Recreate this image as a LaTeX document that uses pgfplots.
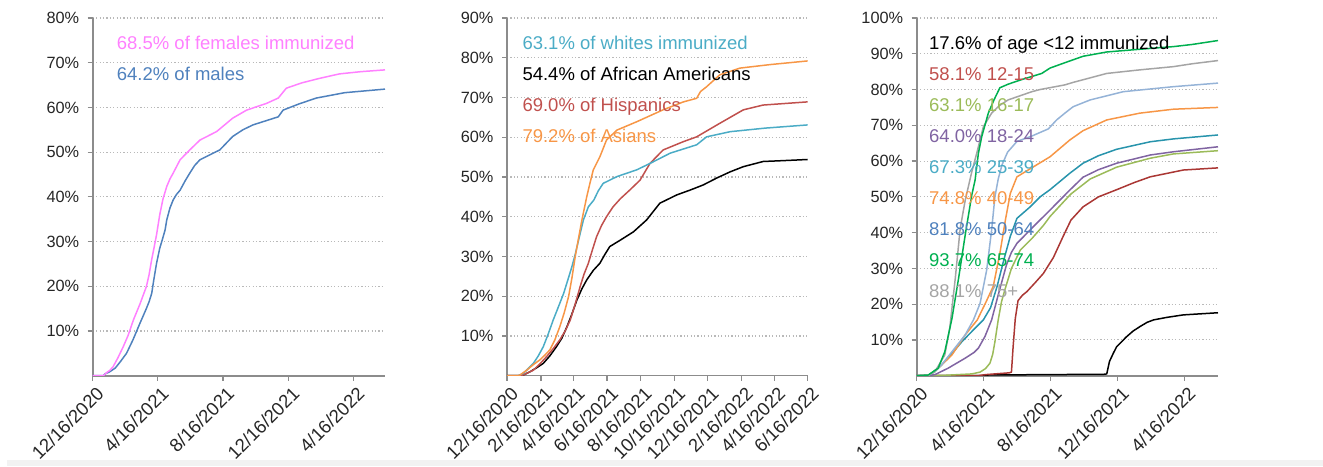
\documentclass[border=0pt]{standalone}
\usepackage{pgfplots}
\pgfplotsset{compat=1.18}
\usepackage{fontspec}
\setmainfont{Liberation Sans}
\definecolor{axisgray}{RGB}{140,140,140}
\definecolor{gridgray}{RGB}{185,185,185}
\definecolor{ticktext}{RGB}{38,38,38}
\definecolor{pinkc}{RGB}{255,128,255}
\definecolor{bluec}{RGB}{79,129,189}
\definecolor{whitec}{RGB}{75,172,198}
\definecolor{hispc}{RGB}{192,80,77}
\definecolor{asianc}{RGB}{247,150,70}
\definecolor{redline}{RGB}{170,55,52}
\definecolor{lgreen}{RGB}{155,187,89}
\definecolor{purplec}{RGB}{128,100,162}
\definecolor{tealline}{RGB}{40,148,172}
\definecolor{lblue}{RGB}{149,179,215}
\definecolor{greenc}{RGB}{0,176,80}
\definecolor{grayc}{RGB}{165,165,165}
\newcommand{\legfont}{\fontsize{18.5}{18.5}\selectfont}
\pgfplotsset{
  panel/.style={
    scale only axis, height=357.7pt, ymin=0, xmin=0, xmax=547,
    axis x line=bottom, axis y line=left,
    axis line style={-, draw=axisgray, line width=1.6pt},
    tick style={draw=axisgray, line width=1.2pt},
    tick align=outside, major tick length=5pt,
    ymajorgrids,
    grid style={draw=gridgray, line width=1.1pt, dash pattern=on 1.2pt off 2.2pt},
    yticklabel style={font=\fontsize{16.3}{16.3}\selectfont, text=ticktext, xshift=-5pt},
    xticklabel style={font=\fontsize{18.5}{18.5}\selectfont, rotate=45, anchor=north east, text=ticktext, xshift=2pt, yshift=-2pt},
    every axis plot/.append style={line width=1.5pt, no marks, line join=round},
  }
}
\begin{document}
\begin{tikzpicture}
\useasboundingbox (0,0) rectangle (1323pt,466pt);
\fill[black!5] (7pt,0) rectangle (1323pt,5.5pt);
% Panel 1
\begin{axis}[panel, at={(92.7pt,90.3pt)}, anchor=south west, width=292.3pt, xmax=545,
  ymax=80, ytick={10,20,...,80}, yticklabels={10\%,20\%,30\%,40\%,50\%,60\%,70\%,80\%},
  xtick={0,121,243,365,486}, xticklabels={12/16/2020,4/16/2021,8/16/2021,12/16/2021,4/16/2022}]
\addplot[color=bluec] coordinates {(0,0) (20,0) (23,0.4) (32,0.9) (42,1.7) (52,3.2) (63,5.0) (75,8) (88,11.7) (100,15) (105,16.5) (110,18.4) (114,21.5) (119,25.1) (125,28.5) (130,30.5) (135,32.6) (138,34.8) (144,37.5) (150,39.3) (156,40.5) (163,41.5) (172,43.5) (181,45.3) (190,47) (200,48.3) (220,49.5) (237,50.5) (261,53.5) (280,55) (299,56.1) (346,57.9) (355,59.4) (385,60.8) (417,62.1) (470,63.3) (545,64.1)};
\addplot[color=pinkc] coordinates {(0,0) (20,0) (26,0.7) (32,1.2) (38,2.0) (47,4) (57,6.5) (66,9) (76,12.5) (88,16) (100,19.9) (105,22.5) (110,26) (115,29) (119,31.5) (125,36) (131,39.5) (138,42.3) (144,44) (150,45.3) (163,48.3) (181,50.5) (200,52.7) (231,54.6) (261,57.6) (287,59.4) (324,60.9) (346,62.1) (361,64.3) (390,65.5) (423,66.5) (460,67.5) (500,68) (545,68.4)};
\end{axis}
% Panel 2
\begin{axis}[panel, at={(507pt,90.3pt)}, anchor=south west, width=300.7pt,
  ymax=90, ytick={10,20,...,90}, yticklabels={10\%,20\%,30\%,40\%,50\%,60\%,70\%,80\%,90\%},
  xtick={0,62,121,182,243,304,365,427,486,547},
  xticklabels={12/16/2020,2/16/2021,4/16/2021,6/16/2021,8/16/2021,10/16/2021,12/16/2021,2/16/2022,4/16/2022,6/16/2022}]
\addplot[color=black] coordinates {(0,0) (20,0) (30,0.2) (42,1.0) (54,2) (66,3.1) (78,5) (90,7.3) (100,9.5) (109,12.3) (118,15.5) (127,19) (136,21.8) (145,24.1) (157,26.5) (169,28.3) (178,30.5) (187,32.5) (206,34.1) (230,36.2) (254,39.2) (278,43.4) (309,45.5) (333,46.7) (357,48) (381,49.7) (406,51.3) (430,52.6) (466,53.9) (500,54.1) (547,54.4)};
\addplot[color=hispc] coordinates {(0,0) (20,0) (30,0.2) (48,1.4) (60,3) (72,4.8) (84,6.8) (96,9) (106,11.3) (115,14) (124,18) (133,22.4) (140,25.5) (148,28.3) (155,31.5) (163,35) (172,37.8) (181,40) (193,42.5) (206,44.5) (224,46.8) (242,49.2) (260,53.4) (284,56.8) (321,58.9) (345,60.1) (387,63.5) (430,66.9) (466,68.1) (547,68.9)};
\addplot[color=whitec] coordinates {(0,0) (20,0) (30,0.6) (48,3.1) (57,5) (66,7.3) (75,10.5) (84,14) (94,17.5) (103,20.7) (110,23.8) (118,27.4) (124,30.5) (130,34) (139,39.2) (148,42.5) (158,44.2) (166,46.5) (175,48.4) (200,50.1) (236,51.8) (260,53.4) (297,56) (345,58.1) (363,60.1) (406,61.4) (470,62.3) (547,63.1)};
\addplot[color=asianc] coordinates {(0,0) (20,0) (24,0.2) (36,1.4) (48,2.8) (60,4.0) (69,5.2) (78,6.5) (87,9) (96,12.3) (104,15.8) (112,19.9) (118,24.5) (124,29.9) (130,34.5) (136,39) (145,45) (151,48.5) (157,51.8) (169,55.1) (181,59.3) (200,61.8) (236,63.9) (284,66.9) (321,68.9) (345,69.8) (352,71.5) (363,72.7) (387,75.7) (424,77.4) (480,78.3) (547,79.2)};
\end{axis}
% Panel 3
\begin{axis}[panel, at={(916.7pt,90.3pt)}, anchor=south west, width=301.3pt,
  ymax=100, ytick={10,20,...,100}, yticklabels={10\%,20\%,30\%,40\%,50\%,60\%,70\%,80\%,90\%,100\%},
  xtick={0,121,243,365,486}, xticklabels={12/16/2020,4/16/2021,8/16/2021,12/16/2021,4/16/2022}]
\addplot[color=black] coordinates {(0,0) (120,0) (130,0.2) (340,0.4) (345,0.5) (350,4) (357,6.3) (363,8.1) (372,9.5) (381,10.9) (393,12.5) (405,13.7) (418,14.9) (430,15.6) (454,16.3) (484,17) (547,17.6)};
\addplot[color=redline] coordinates {(0,0) (110,0) (125,0.3) (150,0.6) (168,0.8) (172,1.0) (175,8) (179,16) (184,21) (192,22.5) (200,23.5) (215,26) (230,28.6) (248,33) (266,39) (280,43.5) (302,47.2) (330,50) (363,52) (395,54) (424,55.6) (484,57.5) (547,58.1)};
\addplot[color=lgreen] coordinates {(0,0) (50,0.1) (100,0.5) (115,1) (125,2) (133,3.5) (138,6) (142,9.5) (148,15.6) (154,20.7) (160,24) (172,30) (188,35.1) (210,38.5) (230,42) (242,44.5) (269,49) (280,50.8) (315,55) (363,58.3) (424,60.8) (466,62) (547,62.9)};
\addplot[color=purplec] coordinates {(0,0) (20,0) (33,0.3) (57,2.1) (88,4.9) (104,6.5) (112,7.7) (124,11) (136,15.6) (148,22.6) (163,31) (172,34.5) (182,37) (212,41.7) (242,46.3) (278,51.9) (302,55.5) (330,57.6) (363,59.4) (424,61.7) (466,62.6) (547,64)};
\addplot[color=tealline] coordinates {(0,0) (20,0) (33,1.1) (57,4.9) (82,9.5) (106,13.3) (121,15.6) (134,19) (146,25) (158,32.3) (170,39) (182,44) (206,47.2) (224,50) (242,52) (278,56.6) (302,59.4) (330,61.5) (363,63.3) (424,65.4) (466,66.2) (547,67.3)};
\addplot[color=asianc] coordinates {(0,0) (20,0) (39,2.1) (64,5.8) (88,11.4) (110,15.6) (127,21) (139,25) (151,34.2) (161,43.5) (170,51) (182,55.6) (212,58.4) (242,61.2) (278,65.9) (302,68.5) (345,71.5) (405,73.4) (466,74.5) (547,75)};
\addplot[color=lblue] coordinates {(0,0) (20,0) (27,0.7) (45,3) (64,6.7) (88,11.4) (103,15.6) (115,20.2) (127,29.5) (136,40.7) (142,50) (148,55) (155,59) (165,62.5) (182,65.5) (209,67) (239,69) (254,71.5) (269,73.4) (284,75.2) (315,77.1) (375,79.4) (466,80.8) (547,81.8)};
\addplot[color=grayc] coordinates {(0,0) (20,0) (33,1.1) (51,5.8) (60,13.3) (70,27.2) (79,41.2) (88,49) (94,53) (100,57) (109,62.2) (121,69.6) (136,73.4) (150,75.5) (166,77.1) (209,79.4) (224,80) (269,81.3) (284,82) (345,84.5) (405,85.5) (466,86.4) (500,87.2) (547,88.1)};
\addplot[color=greenc] coordinates {(0,0) (21,0.2) (39,2.1) (51,6.7) (64,16) (76,27.2) (88,39.3) (100,50.5) (106,54.7) (112,62.2) (118,66.8) (130,73.4) (140,77) (151,80.5) (166,81.5) (191,82.8) (227,84.5) (242,86) (269,87.5) (302,89.3) (345,90.5) (424,91.5) (466,92) (500,92.6) (547,93.7)};
\end{axis}
% Labels
\begin{scope}[every node/.style={anchor=base west, inner sep=0pt, font=\legfont}]
\node[text=pinkc] at (116.7pt,416pt) {68.5\% of females immunized};
\node[text=bluec] at (116.7pt,385pt) {64.2\% of males};
\node[text=whitec] at (522.3pt,416pt) {63.1\% of whites immunized};
\node[text=black] at (522.3pt,385pt) {54.4\% of African Americans};
\node[text=hispc] at (522.3pt,354pt) {69.0\% of Hispanics};
\node[text=asianc] at (522.3pt,323pt) {79.2\% of Asians};
\node[text=black] at (929pt,416pt) {17.6\% of age <12 immunized};
\node[text=hispc] at (929pt,385pt) {58.1\% 12-15};
\node[text=lgreen] at (929pt,354pt) {63.1\% 16-17};
\node[text=purplec] at (929pt,323pt) {64.0\% 18-24};
\node[text=whitec] at (929pt,292pt) {67.3\% 25-39};
\node[text=asianc] at (929pt,261pt) {74.8\% 40-49};
\node[text=bluec] at (929pt,230pt) {81.8\% 50-64};
\node[text=greenc] at (929pt,199pt) {93.7\% 65-74};
\node[text=grayc] at (929pt,168pt) {88.1\% 75+};
\end{scope}
\end{tikzpicture}
\end{document}
